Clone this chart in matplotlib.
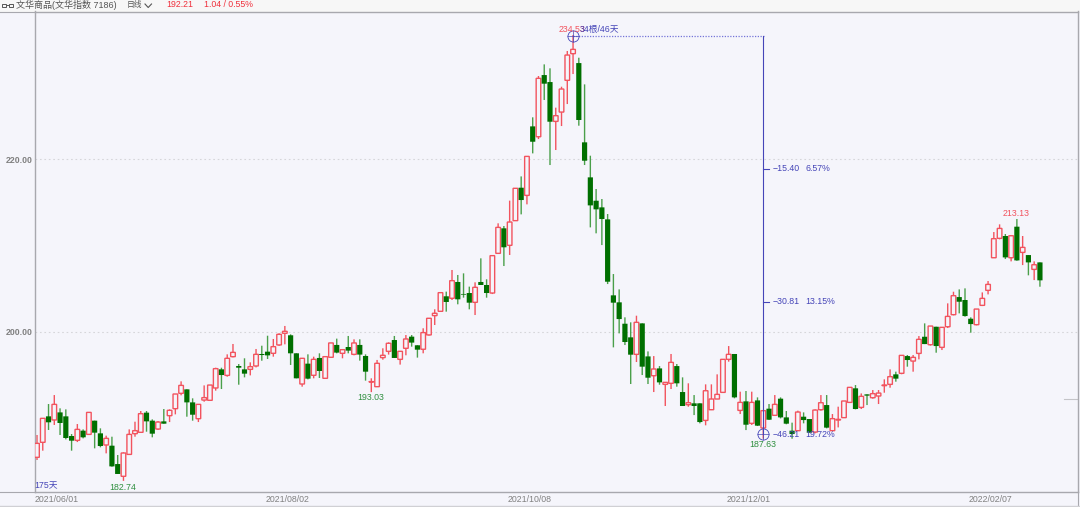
#!/usr/bin/env python3
"""
Daily candles of the Wenhua commodity index
"""
import matplotlib
matplotlib.use('Agg')
import matplotlib.pyplot as plt
from matplotlib.lines import Line2D
from matplotlib.patches import Rectangle
from matplotlib.transforms import ScaledTranslation

opens = [185.47, 187.21, 190.22, 189.80, 190.68, 190.22, 187.94, 187.44, 188.56, 188.13,
         189.72, 188.25, 186.90, 186.82, 184.69, 183.27, 185.81, 188.21, 188.37, 190.65,
         189.72, 188.75, 189.64, 190.30, 191.11, 192.89, 193.35, 191.84, 189.95, 192.11,
         192.08, 193.51, 195.67, 194.97, 197.14, 196.06, 195.67, 195.67, 196.06, 197.45,
         197.72, 197.53, 198.50, 199.85, 199.62, 197.53, 193.97, 196.33, 194.98, 196.99,
         194.63, 197.07, 198.50, 197.53, 198.26, 197.41, 198.50, 197.22, 194.21, 193.66,
         197.03, 197.76, 199.07, 196.83, 198.11, 199.46, 198.46, 198.00, 199.66, 201.90,
         202.40, 204.14, 203.91, 205.80, 204.41, 204.52, 203.44, 205.80, 205.45, 204.52,
         209.12, 212.02, 210.05, 212.91, 216.73, 215.84, 223.84, 222.64, 229.79, 228.98,
         224.42, 225.50, 229.18, 232.27, 231.18, 221.99, 217.93, 215.22, 214.45, 213.06,
         204.25, 203.44, 200.96, 199.38, 197.41, 201.00, 197.17, 194.93, 195.78, 193.93,
         194.05, 196.05, 193.04, 191.57, 191.73, 191.73, 189.75, 190.99, 192.23, 193.00,
         196.83, 197.45, 190.91, 191.96, 189.41, 192.07, 188.87, 191.11, 190.34, 192.27,
         190.10, 188.56, 188.56, 190.18, 189.91, 188.40, 190.99, 191.53, 188.56, 189.80,
         190.07, 191.84, 193.47, 191.26, 192.77, 192.38, 192.58, 193.78, 193.93, 195.09,
         195.21, 197.21, 196.63, 197.52, 199.45, 198.53, 200.61, 198.22, 200.61, 202.01,
         204.05, 203.71, 201.54, 200.85, 203.09, 204.83, 208.61, 210.86, 211.13, 208.61,
         212.21, 209.23, 208.92, 207.26, 208.07]
highs = [188.06, 189.99, 191.65, 192.69, 191.15, 191.03, 188.17, 189.33, 188.71, 190.68,
         189.72, 188.83, 187.98, 187.86, 185.74, 186.05, 188.71, 189.60, 190.84, 190.84,
         189.87, 189.68, 191.07, 191.03, 192.81, 194.28, 193.35, 192.31, 191.61, 193.81,
         193.85, 195.86, 195.86, 197.41, 198.61, 196.29, 196.95, 196.48, 198.03, 198.41,
         199.57, 199.19, 199.85, 200.70, 199.73, 197.53, 196.95, 197.41, 197.14, 197.53,
         197.14, 198.73, 199.23, 197.95, 199.54, 199.15, 199.15, 197.41, 194.63, 196.76,
         198.11, 198.80, 199.54, 197.76, 199.65, 199.65, 198.46, 200.43, 201.59, 202.63,
         204.56, 204.68, 207.19, 206.61, 206.80, 205.26, 205.76, 208.54, 206.11, 208.89,
         212.60, 212.29, 215.23, 216.66, 218.04, 220.36, 224.89, 229.68, 231.03, 230.57,
         226.01, 228.44, 232.58, 234.43, 231.80, 228.71, 220.44, 216.58, 215.42, 213.68,
         206.72, 204.94, 201.70, 201.12, 201.89, 201.00, 197.75, 197.21, 196.05, 194.16,
         197.45, 196.29, 194.74, 194.05, 192.69, 191.73, 193.93, 193.93, 195.09, 196.83,
         198.37, 197.45, 193.08, 193.16, 193.08, 192.42, 190.88, 191.65, 192.69, 192.42,
         190.84, 189.49, 190.88, 190.68, 189.91, 191.03, 192.69, 192.69, 190.49, 191.34,
         192.00, 193.58, 193.85, 192.88, 192.77, 193.27, 193.27, 194.51, 195.67, 195.40,
         197.29, 197.33, 197.33, 199.53, 201.00, 200.69, 200.61, 200.54, 203.32, 204.67,
         204.94, 205.06, 201.70, 202.66, 204.59, 205.91, 211.59, 212.48, 211.36, 211.20,
         213.10, 211.13, 208.92, 208.19, 208.07]
lows = [185.16, 186.24, 188.64, 189.22, 188.06, 187.55, 186.24, 187.24, 187.67, 188.13,
        186.51, 186.63, 185.93, 184.38, 183.54, 182.74, 185.81, 187.86, 188.37, 188.44,
        187.79, 188.64, 189.37, 189.56, 190.45, 192.66, 190.18, 189.72, 189.56, 191.92,
        192.08, 193.20, 193.39, 194.82, 197.06, 193.89, 194.74, 194.97, 195.90, 196.67,
        196.87, 197.14, 198.38, 198.57, 196.18, 194.63, 193.66, 194.51, 194.63, 194.67,
        194.63, 197.07, 197.53, 196.95, 197.53, 197.30, 196.68, 194.36, 193.03, 193.66,
        196.79, 197.38, 196.99, 196.22, 197.30, 198.30, 197.03, 197.53, 199.58, 200.81,
        202.40, 202.36, 203.71, 203.21, 203.98, 202.63, 201.97, 205.45, 203.98, 204.40,
        209.12, 207.65, 208.93, 212.91, 213.64, 214.80, 220.71, 222.37, 226.90, 219.36,
        221.10, 223.88, 226.43, 229.91, 223.92, 219.36, 212.13, 211.44, 210.08, 205.56,
        198.22, 199.84, 198.49, 193.97, 196.52, 195.01, 193.97, 193.04, 193.89, 191.42,
        193.39, 193.66, 191.42, 191.34, 190.37, 189.41, 189.18, 190.95, 192.23, 193.00,
        196.56, 192.31, 190.49, 188.63, 189.22, 189.10, 187.63, 189.80, 190.26, 189.98,
        189.30, 187.63, 188.56, 189.41, 188.33, 188.25, 190.88, 188.83, 188.56, 188.94,
        190.07, 191.84, 191.03, 191.07, 191.53, 192.27, 191.65, 192.96, 193.54, 194.24,
        195.10, 195.98, 195.40, 196.83, 198.60, 198.42, 197.60, 197.91, 200.46, 201.93,
        202.16, 201.78, 199.92, 200.77, 203.01, 204.36, 208.61, 210.74, 208.46, 208.19,
        208.26, 207.76, 206.57, 206.02, 205.25]
closes = [187.09, 189.99, 189.53, 191.61, 189.45, 187.71, 187.40, 188.71, 187.79, 190.68,
          188.33, 186.78, 187.67, 184.42, 183.54, 185.97, 188.13, 188.56, 190.53, 189.64,
          188.21, 189.56, 189.37, 190.92, 192.81, 193.81, 191.84, 190.41, 191.61, 192.39,
          193.85, 195.75, 195.01, 196.95, 197.64, 195.86, 195.17, 195.98, 197.41, 197.33,
          197.29, 198.30, 199.73, 200.08, 197.53, 194.63, 196.95, 194.59, 196.83, 195.48,
          197.14, 198.73, 197.61, 197.95, 197.84, 198.73, 197.38, 195.40, 194.25, 196.37,
          197.30, 198.69, 196.99, 197.76, 199.19, 198.77, 197.95, 199.93, 201.59, 202.17,
          204.56, 203.48, 205.95, 203.79, 204.33, 203.40, 205.18, 205.45, 204.52, 208.85,
          212.13, 209.82, 212.75, 216.66, 215.30, 220.36, 222.06, 229.41, 228.79, 224.38,
          225.08, 228.17, 232.11, 232.77, 224.58, 219.86, 214.68, 214.22, 213.10, 205.83,
          203.40, 201.50, 198.84, 197.37, 201.12, 195.98, 194.70, 195.71, 194.16, 194.16,
          196.48, 194.05, 191.42, 191.80, 191.42, 189.56, 193.19, 192.23, 192.77, 196.83,
          197.41, 192.42, 191.84, 189.25, 191.84, 189.14, 190.88, 189.83, 191.61, 190.10,
          189.37, 188.17, 190.72, 189.79, 188.33, 190.95, 191.80, 188.91, 189.95, 189.87,
          192.00, 193.58, 191.07, 192.54, 192.62, 192.85, 192.92, 193.85, 194.82, 194.59,
          197.29, 196.75, 197.06, 199.15, 198.60, 200.69, 198.37, 200.54, 201.81, 204.21,
          203.51, 201.85, 200.92, 202.66, 203.90, 205.52, 210.82, 212.01, 208.65, 211.16,
          208.30, 209.81, 208.07, 207.80, 205.99]

y_ticks = [200, 220]
y_labels = ['200.00', '220.00']
date_pos = [0, 40, 82, 120, 162]
date_labels = ['2021/06/01', '2021/08/02', '2021/10/08', '2021/12/01', '2022/02/07']
last_price = 192.21

# measuring tool, from the top to the bottom
measure_top = 234.33
measure_mid = [218.93, 203.52]
measure_bottom = 188.12
measure_from = 93
measure_to = 126

BG = '#f5f5fb'
RED = '#f2535e'
GREEN = '#006f00'
GREEN_WICK = '#4a9f4a'
BLUE = '#4545b8'
GREY = '#808080'
W, H = 1080, 507
LEFT, RIGHT, TOP, BOTTOM = 34.5, 1078, 11.5, 492
STEP = 5.764

plt.rcParams['font.family'] = ['Liberation Sans', 'Noto Sans CJK SC', 'DejaVu Sans']
FS = 6.3

fig = plt.figure(figsize=(W / 100, H / 100), dpi=100, facecolor=BG)
ax = fig.add_axes([LEFT / W, 1 - BOTTOM / H, (RIGHT - LEFT) / W, (BOTTOM - TOP) / H])
ax.set_facecolor(BG)
ax.set_xlim((LEFT - 37) / STEP, (RIGHT - 37) / STEP)
ax.set_ylim(200 - (BOTTOM - 332) / 8.625, 200 + (332 - TOP) / 8.625)

for s in ax.spines.values():
    s.set_color('#a8a8ae')
    s.set_linewidth(1.0)

ax.set_yticks(y_ticks, y_labels, fontsize=FS, color=GREY, fontweight='bold')
ax.set_xticks(date_pos, date_labels, fontsize=FS, color=GREY, ha='left')
ax.tick_params(length=0, pad=1)
ax.tick_params(axis='x', pad=2.5)
shift = ScaledTranslation(-2 / 100, 0, fig.dpi_scale_trans)
for lab in ax.get_xticklabels():
    lab.set_transform(lab.get_transform() + shift)
ax.grid(axis='y', color='#d6d6da', linestyle=(0, (1.5, 2.5)), linewidth=0.8)
ax.set_axisbelow(True)

# candles
xs = list(range(len(opens)))
up = [c >= o for o, c in zip(opens, closes)]
wick_colors = [RED if u else GREEN_WICK for u in up]
wicks = ax.vlines(xs, lows, highs, colors=wick_colors, linewidth=1.0, zorder=2)
wicks.set_snap(False)

for i, o, c in zip(xs, opens, closes):
    if c >= o:
        bar = ax.bar(i, c - o, bottom=o, width=0.8, facecolor=BG, edgecolor=RED,
                     linewidth=1.0, zorder=3)
    else:
        bar = ax.bar(i, o - c, bottom=c, width=0.9, color=GREEN, linewidth=0, zorder=3)
    bar[0].set_snap(False)

# last price mark at the right side
ax.plot([(1064 - 37) / STEP, (RIGHT - 37) / STEP], [last_price, last_price],
        color='#c4c4c8', linewidth=0.8, zorder=1)

# measuring lines
ax.plot([measure_from, measure_to + 0.1], [measure_top, measure_top], color='#7474d8',
        linestyle=(0, (1, 1.2)), linewidth=0.9, zorder=4)
ax.plot([measure_to, measure_to], [measure_bottom, measure_top], color=BLUE,
        linewidth=0.8, zorder=4)
for y in measure_mid:
    ax.plot([measure_to, measure_to + 1], [y, y], color=BLUE, linewidth=0.8, zorder=4)
ax.plot([measure_from, measure_to], [measure_top, measure_bottom], linestyle='none',
        marker='o', ms=8, mfc='none', mec=BLUE, mew=0.6, zorder=5)
ax.plot([measure_from, measure_to], [measure_top, measure_bottom], linestyle='none',
        marker='+', ms=8, mec=BLUE, mew=0.5, zorder=5)


def px_text(x, y, s, color, ha='left', size=FS):
    """Puts a text at a position given in picture pixels."""
    fig.text(x / W, 1 - y / H, s, color=color, fontsize=size, ha=ha, va='center', zorder=6)


px_text(123, 487, '182.74', '#2f8f3f', 'center')
px_text(371, 398, '193.03', '#2f8f3f', 'center')
px_text(763, 444.5, '187.63', '#2f8f3f', 'center')
px_text(1016.5, 213.5, '213.13', RED, 'center')
px_text(34.5, 486, '175天', BLUE)
px_text(559, 29.5, '234.53', RED)
px_text(580, 29.5, '34根/46天', BLUE)
px_text(773, 168.5, '−15.40', BLUE)
px_text(805, 168.5, '6.57%', BLUE)
px_text(773, 301.5, '−30.81', BLUE)
px_text(805, 301.5, '13.15%', BLUE)
px_text(773, 434.5, '−46.21', BLUE)
px_text(805, 434.5, '19.72%', BLUE)

# header strip
fig.add_artist(Rectangle((0, 1 - TOP / H), 1, TOP / H, transform=fig.transFigure,
                         facecolor='#f7f7f7', edgecolor='none', zorder=0))
px_text(16.5, 4.8, '文华商品(文华指数 7186)', '#555555', size=6.5)
px_text(127, 4.8, '日线', '#555555', size=5.6)
px_text(166, 4.8, '192.21', '#f0303c')
px_text(204, 4.8, '1.04 / 0.55%', '#f0303c')
for x0 in (1.5, 8.5):
    fig.add_artist(Rectangle((x0 / W, 1 - 6.5 / H), 4 / W, 2.5 / H, transform=fig.transFigure,
                             facecolor='none', edgecolor='#555555', linewidth=0.7))
fig.add_artist(Line2D([5.5 / W, 8.5 / W], [1 - 5.2 / H, 1 - 5.2 / H], color='#555555',
                      linewidth=0.7))
fig.add_artist(Line2D([145 / W, 148.2 / W, 151.5 / W], [1 - 4 / H, 1 - 7.5 / H, 1 - 4 / H],
                      color='#555555', linewidth=0.8))

# outer lines of the window
fig.add_artist(Line2D([RIGHT / W, RIGHT / W], [1 - BOTTOM / H, 1 - 505 / H], color='#a8a8ae',
                      linewidth=0.8))
fig.add_artist(Line2D([0, 1], [1 - 505.5 / H, 1 - 505.5 / H], color='#d0d0d4', linewidth=1.0))
fig.add_artist(Line2D([0, LEFT / W], [1 - BOTTOM / H, 1 - BOTTOM / H], color='#a8a8ae',
                      linewidth=0.8))
fig.add_artist(Line2D([0, LEFT / W], [1 - TOP / H, 1 - TOP / H], color='#a8a8ae',
                      linewidth=0.8))

fig.savefig('out.png', dpi=100, facecolor=BG)
